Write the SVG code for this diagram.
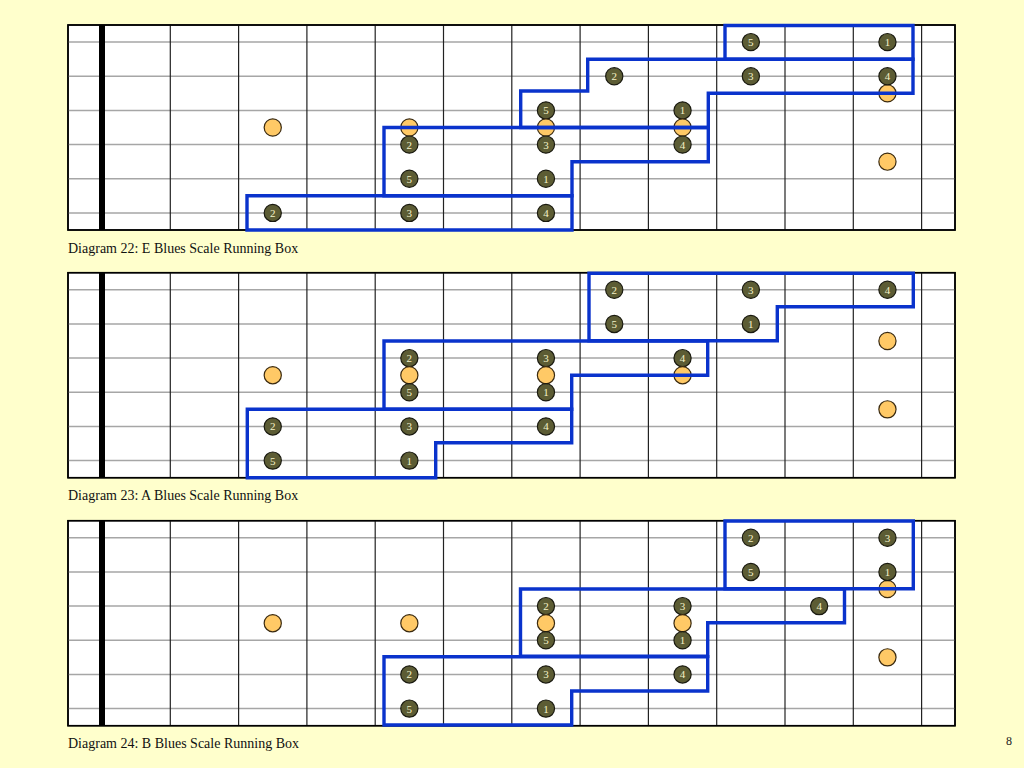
<svg xmlns="http://www.w3.org/2000/svg" xmlns:xlink="http://www.w3.org/1999/xlink" width="1024" height="768" viewBox="0 0 1024 768">
<style>
.bg{fill:#FFFFCC}
.board{fill:#FFFFFF;stroke:#000;stroke-width:1.5}
.str{stroke:#A6A6A6;stroke-width:1.5}
.fret{stroke:#222;stroke-width:1.2}
.nut{fill:#000}
.nd circle{fill:#5C5C34;stroke:#1a1a10;stroke-width:1.2}
.nd text{fill:#F4F2C8;font-family:"Liberation Serif","Times New Roman",serif;font-size:11px;text-anchor:middle}
.od{fill:#FFC966;stroke:#3a2a10;stroke-width:1.2}
.box{fill:none;stroke:#0A33CC;stroke-width:3.4;stroke-linejoin:miter}
.cap{font-family:"Liberation Serif","Times New Roman",serif;font-size:14px;fill:#111}
.pg{font-family:"Liberation Serif","Times New Roman",serif;font-size:12px;fill:#222;text-anchor:middle}
</style>
<defs>
<g id="fb">
<rect class="board" x="68" y="0" width="887" height="205"/>
<g class="str">
<line x1="68" y1="17.08" x2="955" y2="17.08"/>
<line x1="68" y1="51.25" x2="955" y2="51.25"/>
<line x1="68" y1="85.42" x2="955" y2="85.42"/>
<line x1="68" y1="119.58" x2="955" y2="119.58"/>
<line x1="68" y1="153.75" x2="955" y2="153.75"/>
<line x1="68" y1="187.92" x2="955" y2="187.92"/>
</g>
<g class="fret">
<line x1="170.3" y1="0" x2="170.3" y2="205"/>
<line x1="238.6" y1="0" x2="238.6" y2="205"/>
<line x1="306.9" y1="0" x2="306.9" y2="205"/>
<line x1="375.2" y1="0" x2="375.2" y2="205"/>
<line x1="443.5" y1="0" x2="443.5" y2="205"/>
<line x1="511.8" y1="0" x2="511.8" y2="205"/>
<line x1="580.1" y1="0" x2="580.1" y2="205"/>
<line x1="648.4" y1="0" x2="648.4" y2="205"/>
<line x1="716.7" y1="0" x2="716.7" y2="205"/>
<line x1="785" y1="0" x2="785" y2="205"/>
<line x1="853.3" y1="0" x2="853.3" y2="205"/>
<line x1="921.6" y1="0" x2="921.6" y2="205"/>
</g>
<rect class="nut" x="99" y="0" width="6" height="205"/>
<rect x="68" y="0" width="887" height="205" fill="none" stroke="#000" stroke-width="1.5"/>
</g>
</defs>
<rect class="bg" x="0" y="0" width="1024" height="768"/>

<!-- Diagram 22 -->
<g id="diagram22">
<use xlink:href="#fb" href="#fb" transform="translate(0,25)"/>
<g id="d22-o-12-b2"><circle class="od" cx="887.45" cy="93.33" r="8.6"/></g>
<g id="d22-o-12-b4"><circle class="od" cx="887.45" cy="161.67" r="8.6"/></g>
<g id="d22-n1" class="nd"><circle cx="750.85" cy="42.08" r="8.6"/><text x="750.85" y="46">5</text></g>
<g id="d22-n2" class="nd"><circle cx="887.45" cy="42.08" r="8.6"/><text x="887.45" y="46">1</text></g>
<g id="d22-n3" class="nd"><circle cx="614.25" cy="76.25" r="8.6"/><text x="614.25" y="80.2">2</text></g>
<g id="d22-n4" class="nd"><circle cx="750.85" cy="76.25" r="8.6"/><text x="750.85" y="80.2">3</text></g>
<g id="d22-n5" class="nd"><circle cx="887.45" cy="76.25" r="8.6"/><text x="887.45" y="80.2">4</text></g>
<g id="d22-n6" class="nd"><circle cx="545.95" cy="110.42" r="8.6"/><text x="545.95" y="114.4">5</text></g>
<g id="d22-n7" class="nd"><circle cx="682.55" cy="110.42" r="8.6"/><text x="682.55" y="114.4">1</text></g>
<g id="d22-o1"><circle class="od" cx="272.75" cy="127.5" r="8.6"/></g>
<g id="d22-o2"><circle class="od" cx="409.35" cy="127.5" r="8.6"/></g>
<g id="d22-o3"><circle class="od" cx="545.95" cy="127.5" r="8.6"/></g>
<g id="d22-o4"><circle class="od" cx="682.55" cy="127.5" r="8.6"/></g>
<g id="d22-n8" class="nd"><circle cx="409.35" cy="144.58" r="8.6"/><text x="409.35" y="148.5">2</text></g>
<g id="d22-n9" class="nd"><circle cx="545.95" cy="144.58" r="8.6"/><text x="545.95" y="148.5">3</text></g>
<g id="d22-n10" class="nd"><circle cx="682.55" cy="144.58" r="8.6"/><text x="682.55" y="148.5">4</text></g>
<g id="d22-n11" class="nd"><circle cx="409.35" cy="178.75" r="8.6"/><text x="409.35" y="182.7">5</text></g>
<g id="d22-n12" class="nd"><circle cx="545.95" cy="178.75" r="8.6"/><text x="545.95" y="182.7">1</text></g>
<g id="d22-n13" class="nd"><circle cx="272.75" cy="212.92" r="8.6"/><text x="272.75" y="216.9">2</text></g>
<g id="d22-n14" class="nd"><circle cx="409.35" cy="212.92" r="8.6"/><text x="409.35" y="216.9">3</text></g>
<g id="d22-n15" class="nd"><circle cx="545.95" cy="212.92" r="8.6"/><text x="545.95" y="216.9">4</text></g>
<text class="cap" x="68" y="252.5">Diagram 22: E Blues Scale Running Box</text>
</g>

<!-- Diagram 23 -->
<g id="diagram23">
<use xlink:href="#fb" href="#fb" transform="translate(0,272.7)"/>
<g id="d23-o-12-b2"><circle class="od" cx="887.45" cy="341.03" r="8.6"/></g>
<g id="d23-o-12-b4"><circle class="od" cx="887.45" cy="409.37" r="8.6"/></g>
<g id="d23-n1" class="nd"><circle cx="614.25" cy="289.78" r="8.6"/><text x="614.25" y="293.7">2</text></g>
<g id="d23-n2" class="nd"><circle cx="750.85" cy="289.78" r="8.6"/><text x="750.85" y="293.7">3</text></g>
<g id="d23-n3" class="nd"><circle cx="887.45" cy="289.78" r="8.6"/><text x="887.45" y="293.7">4</text></g>
<g id="d23-n4" class="nd"><circle cx="614.25" cy="323.95" r="8.6"/><text x="614.25" y="327.9">5</text></g>
<g id="d23-n5" class="nd"><circle cx="750.85" cy="323.95" r="8.6"/><text x="750.85" y="327.9">1</text></g>
<g id="d23-n6" class="nd"><circle cx="409.35" cy="358.12" r="8.6"/><text x="409.35" y="362.1">2</text></g>
<g id="d23-n7" class="nd"><circle cx="545.95" cy="358.12" r="8.6"/><text x="545.95" y="362.1">3</text></g>
<g id="d23-n8" class="nd"><circle cx="682.55" cy="358.12" r="8.6"/><text x="682.55" y="362.1">4</text></g>
<g id="d23-o1"><circle class="od" cx="272.75" cy="375.2" r="8.6"/></g>
<g id="d23-o2"><circle class="od" cx="409.35" cy="375.2" r="8.6"/></g>
<g id="d23-o3"><circle class="od" cx="545.95" cy="375.2" r="8.6"/></g>
<g id="d23-o4"><circle class="od" cx="682.55" cy="375.2" r="8.6"/></g>
<g id="d23-n9" class="nd"><circle cx="409.35" cy="392.28" r="8.6"/><text x="409.35" y="396.2">5</text></g>
<g id="d23-n10" class="nd"><circle cx="545.95" cy="392.28" r="8.6"/><text x="545.95" y="396.2">1</text></g>
<g id="d23-n11" class="nd"><circle cx="272.75" cy="426.45" r="8.6"/><text x="272.75" y="430.4">2</text></g>
<g id="d23-n12" class="nd"><circle cx="409.35" cy="426.45" r="8.6"/><text x="409.35" y="430.4">3</text></g>
<g id="d23-n13" class="nd"><circle cx="545.95" cy="426.45" r="8.6"/><text x="545.95" y="430.4">4</text></g>
<g id="d23-n14" class="nd"><circle cx="272.75" cy="460.62" r="8.6"/><text x="272.75" y="464.6">5</text></g>
<g id="d23-n15" class="nd"><circle cx="409.35" cy="460.62" r="8.6"/><text x="409.35" y="464.6">1</text></g>
<text class="cap" x="68" y="500">Diagram 23: A Blues Scale Running Box</text>
</g>

<!-- Diagram 24 -->
<g id="diagram24">
<use xlink:href="#fb" href="#fb" transform="translate(0,520.7)"/>
<g id="d24-o-12-b2"><circle class="od" cx="887.45" cy="589.03" r="8.6"/></g>
<g id="d24-o-12-b4"><circle class="od" cx="887.45" cy="657.37" r="8.6"/></g>
<g id="d24-n1" class="nd"><circle cx="750.85" cy="537.78" r="8.6"/><text x="750.85" y="541.7">2</text></g>
<g id="d24-n2" class="nd"><circle cx="887.45" cy="537.78" r="8.6"/><text x="887.45" y="541.7">3</text></g>
<g id="d24-n3" class="nd"><circle cx="750.85" cy="571.95" r="8.6"/><text x="750.85" y="575.9">5</text></g>
<g id="d24-n4" class="nd"><circle cx="887.45" cy="571.95" r="8.6"/><text x="887.45" y="575.9">1</text></g>
<g id="d24-n5" class="nd"><circle cx="545.95" cy="606.12" r="8.6"/><text x="545.95" y="610.1">2</text></g>
<g id="d24-n6" class="nd"><circle cx="682.55" cy="606.12" r="8.6"/><text x="682.55" y="610.1">3</text></g>
<g id="d24-n7" class="nd"><circle cx="819.15" cy="606.12" r="8.6"/><text x="819.15" y="610.1">4</text></g>
<g id="d24-o1"><circle class="od" cx="272.75" cy="623.2" r="8.6"/></g>
<g id="d24-o2"><circle class="od" cx="409.35" cy="623.2" r="8.6"/></g>
<g id="d24-o3"><circle class="od" cx="545.95" cy="623.2" r="8.6"/></g>
<g id="d24-o4"><circle class="od" cx="682.55" cy="623.2" r="8.6"/></g>
<g id="d24-n8" class="nd"><circle cx="545.95" cy="640.28" r="8.6"/><text x="545.95" y="644.2">5</text></g>
<g id="d24-n9" class="nd"><circle cx="682.55" cy="640.28" r="8.6"/><text x="682.55" y="644.2">1</text></g>
<g id="d24-n10" class="nd"><circle cx="409.35" cy="674.45" r="8.6"/><text x="409.35" y="678.4">2</text></g>
<g id="d24-n11" class="nd"><circle cx="545.95" cy="674.45" r="8.6"/><text x="545.95" y="678.4">3</text></g>
<g id="d24-n12" class="nd"><circle cx="682.55" cy="674.45" r="8.6"/><text x="682.55" y="678.4">4</text></g>
<g id="d24-n13" class="nd"><circle cx="409.35" cy="708.62" r="8.6"/><text x="409.35" y="712.6">5</text></g>
<g id="d24-n14" class="nd"><circle cx="545.95" cy="708.62" r="8.6"/><text x="545.95" y="712.6">1</text></g>
<text class="cap" x="68" y="748">Diagram 24: B Blues Scale Running Box</text>
</g>

<!-- running boxes (connectors) -->
<g id="boxes" class="box">
<path d="M725,25.5 H913 V59.3 H725 Z"/>
<path d="M587.7,59.3 H913 V93.3 H708.3 V127.5 H520.7 V91 H587.7 Z"/>
<path d="M384,127.5 H708.3 V161.7 H572 V195.8 H384 Z"/>
<path d="M247,195.8 H572 V230 H247 Z"/>

<path d="M589,273.3 H913.3 V306.7 H777.3 V340.8 H589 Z"/>
<path d="M384,341 H707.7 V375.2 H571.7 V409.3 H384 Z"/>
<path d="M247.3,409.3 H571.7 V442.7 H435.7 V477.7 H247.3 Z"/>

<path d="M725,521 H913.3 V588.8 H725 Z"/>
<path d="M520.5,589 H844.5 V622.7 H707.7 V656.3 H520.5 Z"/>
<path d="M384,656.7 H707.7 V691 H571.7 V725 H384 Z"/>
</g>

<text class="pg" x="1009" y="745">8</text>
</svg>
